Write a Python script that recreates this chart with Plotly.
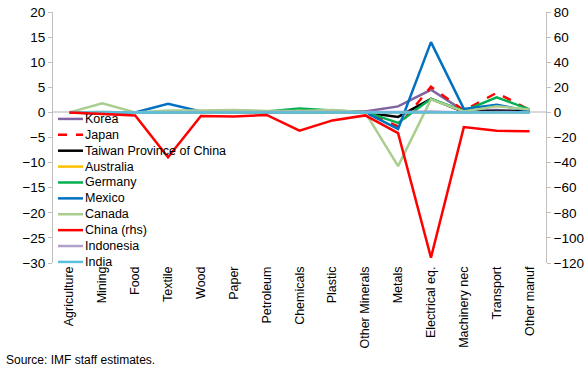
import plotly.graph_objects as go

# 行业类别
sectors = ["Agriculture", "Mining", "Food", "Textile", "Wood", "Paper", "Petroleum",
           "Chemicals", "Plastic", "Other Minerals", "Metals", "Electrical eq.",
           "Machinery nec", "Transport", "Other manuf"]

# 各经济体数值（左轴，China 为右轴）
korea = [0, 0, 0, 0.1, 0.1, 0.1, 0.1, 0.1, 0.1, 0.2, 1.2, 4.5, 0.3, 0.5, 0.1]
japan = [0, 0, 0, 0.1, 0.1, 0.1, 0.1, 0.1, 0.1, 0.1, -2.8, 5.1, 0.4, 3.9, 0.5]
taiwan = [0, 0, 0, 0, 0, 0, 0, 0, 0, 0, -0.9, 2.7, 0.1, 0.3, 0.2]
australia = [0, 0, 0, 0, 0, 0, 0, 0, 0, 0, -0.1, 0, 0, 0, 0]
germany = [0, 0.1, 0, 0.1, 0.2, 0.3, 0.2, 0.8, 0.4, 0.1, -2.1, 2.7, 0.3, 3.0, 0.6]
mexico = [0, -0.2, 0, 1.7, 0.2, 0.1, 0.1, 0.1, 0.2, 0, -3.3, 14.0, 0.7, 1.5, 0.3]
canada = [0, 1.8, 0, 0.4, 0.4, 0.5, 0.3, 0.3, 0.5, 0, -10.7, 2.6, 0.2, 1.2, 0.6]
china_rhs = [0, -1, -2.4, -35.7, -2.8, -3.2, -2.0, -14.6, -6.4, -2.4, -16.5, -115.7, -11.7, -14.6, -15]
indonesia = [0, 0, 0, 0, 0, 0, 0, 0, 0, 0, 0.1, 0.2, 0, 0.1, 0]
india = [0, 0, 0, 0, 0, 0, 0, 0, 0, 0, 0, 0, 0, 0, 0]

names = ["Korea", "Japan", "Taiwan Province of China", "Australia", "Germany",
         "Mexico", "Canada", "China (rhs)", "Indonesia", "India"]
values = [korea, japan, taiwan, australia, germany, mexico, canada, china_rhs, indonesia, india]
colors = ["#8064A2", "#FF0000", "#000000", "#FFC000", "#00B050",
          "#0070C0", "#A9CE8E", "#FF0000", "#B1A0C7", "#5BC0DE"]
dashes = ["solid", "dash", "solid", "solid", "solid", "solid", "solid", "solid", "solid", "solid"]

FONT = "Liberation Sans, Arial"

fig = go.Figure()
for name, vals, col, dsh in zip(names, values, colors, dashes):
    fig.add_trace(go.Scatter(
        x=sectors, y=vals, mode="lines", name=name,
        line=dict(color=col, width=2.5, dash=dsh),
        yaxis="y2" if name == "China (rhs)" else "y",
    ))

# 自定义图例（plotly 图例行距太大）
annotations = []
shapes = []
y0 = 0.574
step = 0.0633
for i, (name, col, dsh) in enumerate(zip(names, colors, dashes)):
    yy = y0 - i * step
    shapes.append(dict(type="line", xref="paper", yref="paper",
                       x0=0.0101, x1=0.0609, y0=yy, y1=yy,
                       line=dict(color=col, width=2.5, dash=dsh)))
    annotations.append(dict(text=name, x=0.061, y=yy, xref="paper", yref="paper",
                            xanchor="left", yanchor="middle", showarrow=False,
                            font=dict(size=12.5, color="#000000", family=FONT)))

annotations.append(dict(text="Source: IMF staff estimates.", x=-0.099, y=-0.386,
                        xref="paper", yref="paper", xanchor="left", yanchor="middle",
                        showarrow=False, font=dict(size=12, color="#000000", family=FONT)))

fig.update_layout(
    width=585, height=370,
    margin=dict(l=53, r=39, t=12, b=107),
    paper_bgcolor="white", plot_bgcolor="white",
    showlegend=False, hovermode=False,
    font=dict(family=FONT, size=13, color="#000000"),
    xaxis=dict(type="category", showline=False, ticks="", showgrid=False,
               tickangle=-90, tickfont=dict(size=12.5), range=[-0.5, 14.5],
               automargin=False),
    # 零线上的类别分隔刻度
    xaxis2=dict(overlaying="x", anchor="free", position=0.6, range=[-0.5, 14.5],
                tickmode="array", tickvals=[i - 0.5 for i in range(16)],
                ticks="inside", ticklen=4, tickcolor="#BFBFBF", showticklabels=False,
                showgrid=False, showline=False, zeroline=False, automargin=False),
    yaxis=dict(range=[-30, 20], dtick=5, showgrid=False,
               zeroline=True, zerolinecolor="#D9D9D9", zerolinewidth=2,
               showline=True, linecolor="#BFBFBF", linewidth=1, automargin=False,
               ticks="outside", ticklen=4, tickcolor="#BFBFBF", tickfont=dict(size=13.5)),
    yaxis2=dict(range=[-120, 80], dtick=20, overlaying="y", side="right",
                showgrid=False, zeroline=False, automargin=False,
                showline=True, linecolor="#BFBFBF", linewidth=1,
                ticks="outside", ticklen=4, tickcolor="#BFBFBF", tickfont=dict(size=13.5)),
    shapes=shapes,
    annotations=annotations,
)

# 去掉浏览器默认的 body 边距
fig.write_html("out.html", config={"displayModeBar": False},
               post_script="document.body.style.margin='0';")
